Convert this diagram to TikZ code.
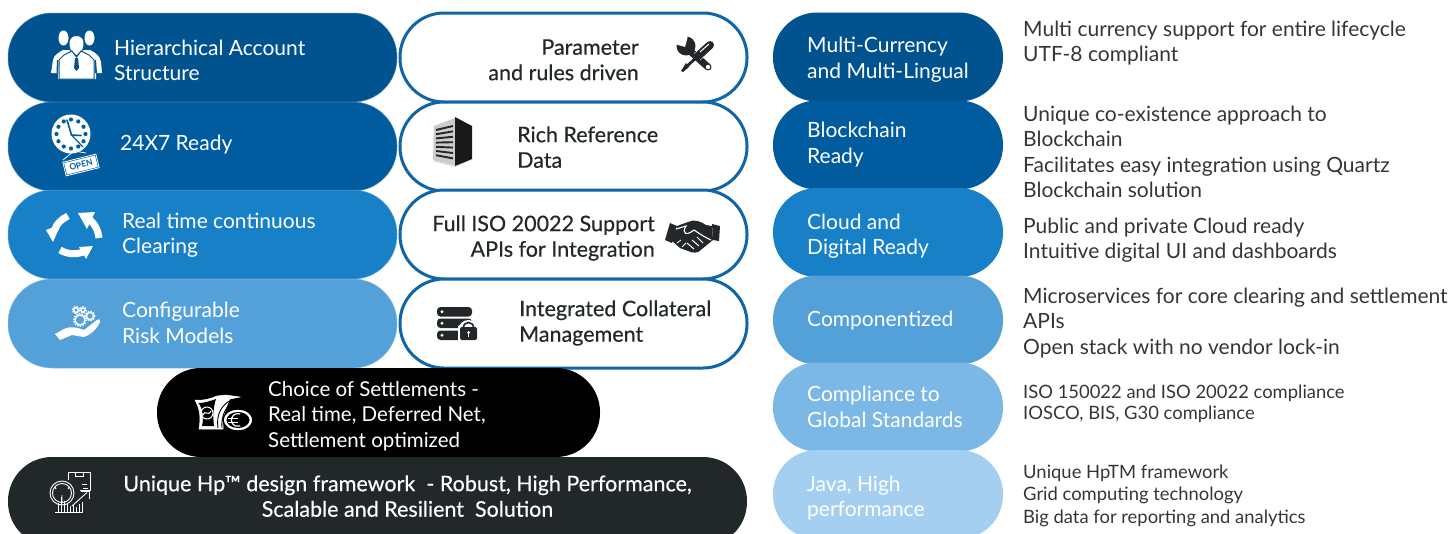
\documentclass[tikz,border=0pt]{standalone}
\usepackage{fontspec}
\setmainfont{Lato}
\newfontfamily\medf[FakeBold=0.4]{Lato}
\usetikzlibrary{calc}
\definecolor{cA}{HTML}{00538F}
\definecolor{cB}{HTML}{005C9E}
\definecolor{cC}{HTML}{1880C6}
\definecolor{cD}{HTML}{54A0D9}
\definecolor{cE}{HTML}{7BB8E6}
\definecolor{cF}{HTML}{A5CFF0}
\definecolor{ring}{HTML}{0F65A5}
\definecolor{ink}{HTML}{222829}
\definecolor{desc}{HTML}{333638}
\newcommand\st{\strut}
\tikzset{
  x=1pt,y=-1pt,
  pill/.style={rectangle,rounded corners=44pt,inner sep=0,minimum width=#1,minimum height=89pt},
  tw/.style={inner sep=0,align=left,anchor=north west,text=white,font=\fontsize{21}{25.5}\selectfont,yshift=17.85pt},
  tm/.style={inner sep=0,align=left,anchor=north west,text=ink,font=\medf\fontsize{21.5}{25.5}\selectfont,yshift=17.85pt},
  tmr/.style={tm,align=right,anchor=north east},
  td/.style={inner sep=0,align=left,anchor=north west,text=desc,font=\fontsize{21}{25.5}\selectfont,yshift=17.85pt},
  tds/.style={inner sep=0,align=left,anchor=north west,text=desc,font=\fontsize{18.4}{#1}\selectfont,yshift=.7*#1*1pt},
  wl/.style={draw=white,line width=#1,fill=none},
}
\begin{document}
\begin{tikzpicture}
\useasboundingbox (0,0) rectangle (1451,533);
\clip (0,0) rectangle (1451,533);
% left column
\node[pill=389pt,fill=cA,draw=cA!70!white,line width=.5pt] (l1) at (202.5,57.5) {};
\node[pill=389pt,fill=cB,draw=cB!70!white,line width=.5pt] (l2) at (202.5,146.5) {};
\node[pill=389pt,fill=cC,draw=cC!70!white,line width=.5pt] (l3) at (202.5,234.5) {};
\node[pill=389pt,fill=cD,draw=cD!70!white,line width=.5pt] (l4) at (202.5,323.5) {};
% middle column
\foreach \n/\y in {m1/57.5,m2/146.5,m3/234.5,m4/323.5}
  \node[pill=347pt,fill=white,draw=ring,line width=3pt] (\n) at (573.5,\y) {};
% bottom
\node[pill=443pt,fill=black] (set) at (378.5,412.5) {};
\node[pill=739pt,fill=ink] (hp) at (377.5,501.5) {};
% right column
\node[pill=230pt,fill=cA] (r1) at (888,57) {};
\node[pill=230pt,fill=cB] (r2) at (888,145) {};
\node[pill=230pt,fill=cC] (r3) at (888,232.5) {};
\node[pill=230pt,fill=cD] (r4) at (888,320) {};
\node[pill=230pt,fill=cE] (r5) at (888,407) {};
\node[pill=230pt,fill=cF] (r6) at (888,494.5) {};
% left text
\node[tw] (t1) at (114,55) {\st Hierarchical Account\\\st Structure};
\node[tw] (t2) at (120,150) {\st 24X7 Ready};
\node[tw] (t3) at (122,228) {\st Real time continuous\\\st Clearing};
\node[tw] (t4) at (122,317.5) {\st Configurable\\\st Risk Models};
% middle text
\node[tmr] (t5) at (639,54.5) {\st Parameter\\\st and rules driven};
\node[tm] (t6) at (517,142) {\st Rich Reference\\\st Data};
\node[tmr] (t7) at (655,231) {\st Full ISO 20022 Support\\\st APIs for Integration};
\node[tm] (t8) at (519,316) {\st Integrated Collateral\\\st Management};
% bottom text
\node[tw,font=\fontsize{20.5}{25.5}\selectfont] (t9) at (268,396) {\st Choice of Settlements -\\\st Real time, Deferred Net,\\\st Settlement optimized};
\node[tm,align=center,anchor=north,text=white] (t10) at (407.5,491) {\st Unique Hp™ design framework\ \ - Robust, High Performance,\\\st Scalable and Resilient\ \ Solution};
% right pills text
\node[tw] (t11) at (807,52.5) {\st Multi-Currency\\\st and Multi-Lingual};
\node[tw] (t12) at (807,137.5) {\st Blockchain\\\st Ready};
\node[tw] (t13) at (807,229) {\st Cloud and\\\st Digital Ready};
\node[tw] (t14) at (807,326) {\st Componentized};
\node[tw] (t15) at (807,401.5) {\st Compliance to\\\st Global Standards};
\node[tw] (t16) at (807,491) {\st Java, High\\\st performance};
% descriptions
\node[td] (d1) at (1023,36) {\st Multi currency support for entire lifecycle\\\st UTF-8 compliant};
\node[td] (d2) at (1023,121) {\st Unique co-existence approach to\\\st Blockchain\\\st Facilitates easy integration using Quartz\\\st Blockchain solution};
\node[td] (d3) at (1023,233) {\st Public and private Cloud ready\\\st Intuitive digital UI and dashboards};
\node[td] (d4) at (1023,303) {\st Microservices for core clearing and settlement\\\st APIs\\\st Open stack with no vendor lock-in};
\node[tds=21] (d5) at (1023,398) {\st ISO 150022 and ISO 20022 compliance\\\st IOSCO, BIS, G30 compliance};
\node[tds=22.5] (d6) at (1023,478) {\st Unique HpTM framework\\\st Grid computing technology\\\st Big data for reporting and analytics};
% --- icons ---
% people
\fill[white] (63.5,38) ellipse[x radius=5,y radius=7.5] (89.5,38) ellipse[x radius=5,y radius=7.5];
\fill[white] (51,73) -- (53,60) .. controls (54,55) and (58,53) .. (63,50) -- (90,50) .. controls (96,53) and (100,56) .. (101,62) -- (102,73) -- (96,73) -- (96,79) -- (58,79) -- (58,73) -- cycle;
\fill[cA] (57,60) -- (56.5,73) -- (58,73) -- (58.5,60) -- cycle (96,60) -- (97,73) -- (95,73) -- (94.5,60) -- cycle;
\fill[white,draw=cA,line width=1pt] (76.5,35.5) .. controls (67,35.5) and (68,47) .. (71,51) -- (76.5,56) -- (82,51) .. controls (85,47) and (86,35.5) .. (76.5,35.5) -- cycle;
\fill[white,draw=cA,line width=1pt] (64,55) -- (72,51) -- (76.5,57) -- (81,51) -- (89,55) -- (94,60) -- (94,79) -- (59,79) -- (59,60) -- cycle;
\fill[cA] (75,58) -- (78,58) -- (79,68) -- (76.5,71) -- (74,68) -- cycle;
% clock with sign
\fill[white] (71,134) circle[radius=19.5];
\foreach \a in {0,30,...,330} \fill[cB] ($(71,134)+(\a:14.5)$) circle[radius=2.1];
\draw[cB,line width=1.6pt,line cap=round] (67,120) -- (71.5,135) -- (81,135.5);
\draw[cB,line width=1.2pt,line cap=round] (71.5,135) -- (83,147);
\draw[white,line width=.8pt] (63,160) -- (74,151) -- (86,153);
\node[rotate=14,fill=white,draw=cB,double=white,double distance=.8pt,line width=.6pt,text=cB,inner sep=1.5pt,minimum width=34pt,minimum height=14pt,font=\bfseries\fontsize{8.5}{9}\selectfont] (open) at (81,165) {OPEN};
% cycle arrows
\draw[wl=7pt] (68,216) .. controls (62,219) and (57,223) .. (55,229);
\fill[white] (46,230) -- (61,224) -- (53,242) -- cycle;
\draw[wl=7pt] (86,217) .. controls (94,222) and (98,229) .. (99,238);
\fill[white] (78,213) -- (95,212) -- (87,229) -- cycle;
\draw[wl=7pt] (60,250) .. controls (67,254) and (75,255) .. (83,252);
\fill[white] (79,247) -- (93,246) -- (86,259) -- cycle;
% hand with gears
\fill[white] (55,334) -- (64,329) .. controls (70,326) and (76,327) .. (84,330) -- (97,320) .. controls (100,318) and (101,321) .. (99,324) .. controls (95,331) and (90,335) .. (84,337) -- (72,335) -- (60,340) -- cycle;
\foreach \x/\y/\r in {80/320/5,90/316/3.6,76/310/2.4,83/310/2}{
  \draw[white,line width=1.4pt] (\x,\y) circle[radius=\r];
  \draw[white,line width=1.4pt,dash pattern=on 1.4pt off 1.4pt] (\x,\y) circle[radius=\r+1.2];
}
% tools
\draw[ink,line width=7pt,line cap=round] (690,51) -- (708,67);
\fill[ink] (686,46) circle[radius=9.5];
\fill[white] (676.5,44.5) -- (685,47) -- (687.5,38) -- (685,32) -- (672,35) -- cycle;
\fill[white] (708,67) circle[radius=2.2];
\draw[white,line width=9pt] (710,45) -- (697,57);
\draw[ink,line width=8pt,line cap=round] (710,45) -- (697,57);
\draw[ink,line width=2.8pt] (698,56) -- (685,68);
\fill[ink] (686,63) -- (689,67) -- (683,72) -- (681,71) -- cycle;
\draw[white,line width=1pt] (700,52) -- (709,44);
% building
\fill[gray!25] (432,161) -- (455,167) -- (472,160) -- (455,156) -- cycle;
\fill[gray!40] (434,126) -- (455,118) -- (455,165) -- (433,160) -- cycle;
\fill[black!90] (455,117) -- (472,126) -- (472,159) -- (455,166) -- cycle;
\foreach \k in {0,...,6}
  \draw[black!85,line width=1.9pt] (436,{130+\k*4.2}) -- (453,{126+\k*5.4});
% handshake
\fill[ink] (677,226) -- (688,222) .. controls (694,219) and (700,221) .. (706,225) -- (712,226) -- (713,240) -- (702,249) .. controls (698,254) and (692,253) .. (688,251) -- (680,248) -- (672,241) -- cycle;
\fill[ink] (670,223) -- (677,226) -- (672,243) -- (665,240) -- cycle (712,224) -- (720,226) -- (719,241) -- (713,240) -- cycle;
\draw[white,line width=1.1pt] (676,229) -- (686,226) .. controls (681,234) and (687,236) .. (694,230) .. controls (700,234) and (706,238) .. (711,240);
\draw[white,line width=1pt] (694,249) -- (687,243) (699,246) -- (692,240) (703,243) -- (697,237);
\draw[white,line width=.8pt] (677,243) -- (681,240) (682,247) -- (686,243);
% servers with lock
\foreach \y in {307,318.5,330.5} {
  \fill[ink,rounded corners=3.5pt] (437,\y) rectangle (472,\y+9.5);
  \fill[white] (442,\y+4.8) circle[radius=1.6];
}
\draw[white,line width=5pt] (476,330) arc[start angle=0,end angle=-180,radius=7.5];
\fill[white,rounded corners=2pt] (458,325) rectangle (479,342);
\draw[ink,line width=1.6pt] (463,328) arc[start angle=180,end angle=360,radius=5.5];
\fill[ink,rounded corners=2pt] (460,327) rectangle (477,340);
\draw[white,line width=1.3pt] (468.5,332) -- (468.5,337);
\fill[white] (468.5,332.5) circle[radius=1.5];
% money
\begin{scope}[white,line width=1pt]
\draw[fill=white,line width=.5pt] (195,400) .. controls (203,401) and (210,399) .. (217,396) -- (226,395) -- (240,397) -- (230,399) .. controls (225,408) and (223,418) .. (223,429) -- (199,429) .. controls (201,418) and (200,409) .. cycle;
\fill[black] (198.5,403) .. controls (205,403) and (210,401) .. (216,399) .. controls (213,408) and (213,418) .. (214,426) -- (202,426) .. controls (204,418) and (203,409) .. cycle;
\draw (207,413) circle[radius=6];
\draw[line width=1pt] (203,415) .. controls (205,409) and (208,417) .. (211,411);
\draw[black,line width=.9pt] (218,428) .. controls (216,415) and (221,405) .. (232,399.5);
\draw[black,line width=.9pt] (222,428) .. controls (221,417) and (225,406) .. (236,399);
\filldraw[draw=black,fill=white,line width=1.4pt] (238,420) ellipse[x radius=15,y radius=11];
\fill[black] (238,420) ellipse[x radius=11.5,y radius=8];
\draw[line width=1.2pt] (240,414) arc[start angle=-70,end angle=-290,radius=6.4];
\draw[line width=1pt] (228,418.5) -- (238,418.5) (228,422) -- (238,422);
\end{scope}
% performance icon
\begin{scope}[white,line width=.9pt]
\draw (68,480) -- (68,472) -- (90,472) -- (90,490) -- (80,490);
\draw (75,473) -- (75,476) -- (83,476) -- (83,473);
\draw (82,484) -- (87,484) (83,488) -- (88,488);
\draw (62,493) circle[radius=12];
\draw (62,493) circle[radius=9.5];
\draw (62,502) -- (62,495) (56,489) -- (55,487) (68,489) -- (69,487);
\foreach \x/\t in {58/503,61/497,64/501,67/504,70/506,73/504,76/507,79/504,82/502}
  \draw (\x,512) -- (\x,\t);
\draw (55,512) -- (83,512);
\draw (72,506) -- (87,492.5);
\draw (81,491) -- (89,491) -- (89,499);
\end{scope}
\end{tikzpicture}
\end{document}
